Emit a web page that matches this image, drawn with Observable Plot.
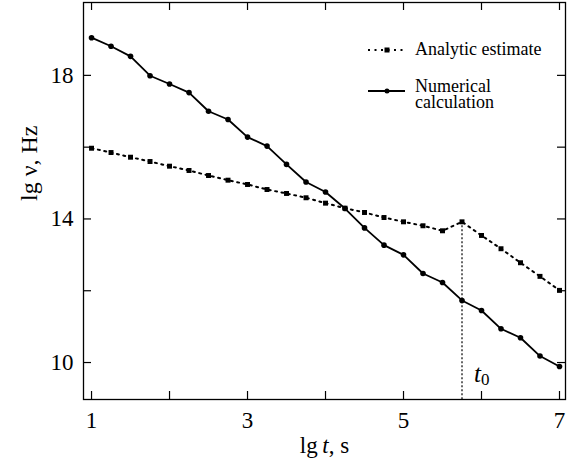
<!DOCTYPE html>
<html><head><meta charset="utf-8">
<script src="https://cdn.jsdelivr.net/npm/d3@7"></script>
<script src="https://cdn.jsdelivr.net/npm/@observablehq/plot@0.6"></script>
<style>body{margin:0;background:#fff}#chart{width:579px;height:461px}</style>
</head><body><div id="chart"></div>
<script>
// ---- data ----
const lgT = [1, 1.25, 1.5, 1.75, 2, 2.25, 2.5, 2.75, 3, 3.25, 3.5, 3.75, 4, 4.25, 4.5, 4.75, 5, 5.25, 5.5, 5.75, 6, 6.25, 6.5, 6.75, 7];
const numerical = [19.05, 18.81, 18.53, 17.99, 17.76, 17.52, 17.0, 16.77, 16.28, 16.03, 15.52, 15.03, 14.75, 14.29, 13.75, 13.27, 13.0, 12.48, 12.23, 11.73, 11.45, 10.94, 10.69, 10.18, 9.89];
const analytic = [15.97, 15.85, 15.72, 15.60, 15.47, 15.35, 15.21, 15.08, 14.96, 14.82, 14.71, 14.59, 14.44, 14.30, 14.18, 14.04, 13.92, 13.81, 13.67, 13.92, 13.54, 13.17, 12.78, 12.40, 12.01];
const xTicks = [1, 2, 3, 4, 5, 6, 7];
const xTickLabels = [1, 3, 5, 7];
const yTicks = [10, 12, 14, 16, 18];
const yTickLabels = [10, 14, 18];
const t0 = 5.75;
const t0Value = 13.92;
const seriesNames = ["Analytic estimate", "Numerical calculation"];
const xLabel = "lg t, s";
const yLabel = "lg ν, Hz";
const xDomain = [0.897, 7.077];
const yDomain = [8.97, 20.03];

// ---- layout ----
const W = 579, H = 461, mL = 83, mR = 14, mT = 2, mB = 62;
const fw = W - mL - mR, fh = H - mT - mB;
const font = "'Liberation Serif', 'Times New Roman', serif";

const numData = lgT.map((x, i) => ({x, y: numerical[i]}));
const anaData = lgT.map((x, i) => ({x, y: analytic[i]}));

const plot = Plot.plot({
  width: W, height: H,
  marginLeft: mL, marginRight: mR, marginTop: mT, marginBottom: mB,
  style: {fontFamily: font, background: "white", color: "black", overflow: "visible"},
  x: {domain: xDomain, label: null},
  y: {domain: yDomain, label: null},
  marks: [
    Plot.tickX(xTicks, {x: d => d, insetTop: fh - 8, stroke: "black", strokeWidth: 1.2}),
    Plot.tickX(xTicks, {x: d => d, insetBottom: fh - 8, stroke: "black", strokeWidth: 1.2}),
    Plot.tickY(yTicks, {y: d => d, insetRight: fw - 8, stroke: "black", strokeWidth: 1.2}),
    Plot.tickY(yTicks, {y: d => d, insetLeft: fw - 8, stroke: "black", strokeWidth: 1.2}),
    Plot.ruleX([t0], {x: d => d, y1: t0Value, y2: yDomain[0], stroke: "black", strokeWidth: 1.2, strokeDasharray: "2,2"}),
    Plot.line(anaData, {x: "x", y: "y", stroke: "black", strokeWidth: 2, strokeDasharray: "2,4.5"}),
    Plot.dot(anaData, {x: "x", y: "y", symbol: "square", r: 2.8, fill: "black"}),
    Plot.line(numData, {x: "x", y: "y", stroke: "black", strokeWidth: 1.8}),
    Plot.dot(numData, {x: "x", y: "y", r: 2.8, fill: "black"}),
    Plot.frame({stroke: "black", strokeWidth: 1.3}),
    Plot.axisX(xTickLabels, {tickSize: 0, tickPadding: 12, fontSize: 23, label: null, tickFormat: d => String(d)}),
    Plot.axisY(yTickLabels, {tickSize: 0, tickPadding: 10, fontSize: 23, label: null, tickFormat: d => String(d)}),
    Plot.text([xLabel], {text: d => d, frameAnchor: "bottom", dy: 53, lineAnchor: "bottom", fontSize: 23}),
    Plot.text([yLabel], {text: d => d, frameAnchor: "left", dx: -54, rotate: -90, lineAnchor: "middle", fontSize: 24}),
    Plot.text([t0], {x: d => d, text: () => "t0", frameAnchor: "bottom", dx: 12, dy: -18, textAnchor: "start", lineAnchor: "bottom", fontSize: 25})
  ]
});
document.getElementById("chart").appendChild(plot);

// ---- post-process: italics / subscript ----
const svg = d3.select(plot);
svg.selectAll("text").each(function() {
  const el = d3.select(this);
  const t = this.textContent;
  if (t === xLabel) {
    el.text(null);
    el.append("tspan").text("lg\u2009");
    el.append("tspan").attr("font-style", "italic").text("t");
    el.append("tspan").text(", s");
  } else if (t === "t0") {
    el.text(null);
    el.append("tspan").attr("font-style", "italic").text("t");
    el.append("tspan").attr("font-size", 17).attr("dy", 3).text("0");
  }
});

// ---- legend ----
const lg = svg.append("g").attr("font-family", font).attr("fill", "black").attr("text-anchor", "start");
lg.append("line").attr("x1", 368).attr("x2", 405).attr("y1", 50).attr("y2", 50)
  .attr("stroke", "black").attr("stroke-width", 2).attr("stroke-dasharray", "2,4.5");
lg.append("rect").attr("x", 384.5).attr("y", 47.5).attr("width", 5).attr("height", 5);
lg.append("text").attr("x", 415).attr("y", 55).attr("font-size", 18).text(seriesNames[0]);
lg.append("line").attr("x1", 368).attr("x2", 405).attr("y1", 91).attr("y2", 91)
  .attr("stroke", "black").attr("stroke-width", 1.8);
lg.append("circle").attr("cx", 387).attr("cy", 91).attr("r", 2.5);
const [w1, w2] = seriesNames[1].split(" ");
lg.append("text").attr("x", 415).attr("y", 92).attr("font-size", 18).text(w1);
lg.append("text").attr("x", 415).attr("y", 108).attr("font-size", 18).text(w2);
</script></body></html>
